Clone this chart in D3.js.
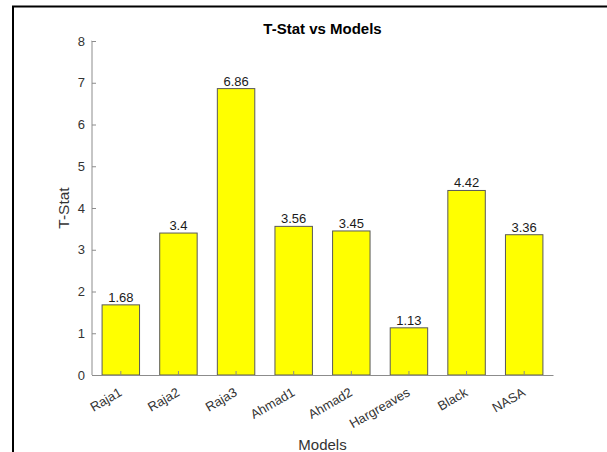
<!DOCTYPE html>
<html><head><meta charset="utf-8">
<script src="https://cdn.jsdelivr.net/npm/d3@7/dist/d3.min.js"></script>
<style>body{margin:0;background:#fff}svg{display:block;font-family:"Liberation Sans",Arial,sans-serif}</style>
</head><body>
<svg id="c" width="607" height="452"></svg>
<script>
const categories = ["Raja1","Raja2","Raja3","Ahmad1","Ahmad2","Hargreaves","Black","NASA"];
const values = [1.68, 3.4, 6.86, 3.56, 3.45, 1.13, 4.42, 3.36];
const valueLabels = ["1.68","3.4","6.86","3.56","3.45","1.13","4.42","3.36"];
const yTicks = [0,1,2,3,4,5,6,7,8];

const svg = d3.select("#c");
const L = 92, R = 553, T = 41, B = 375;
const x = d3.scaleBand().domain(categories).range([L, R]).paddingInner(0.35).paddingOuter(0.175);
const y = d3.scaleLinear().domain([0, 8]).range([B, T]);

// outer frame (left and top black lines)
svg.append("path").attr("d", `M13,452 L13,6.5 L607,6.5`).attr("fill","none").attr("stroke","#000").attr("stroke-width",2);

// bars
svg.selectAll("rect.bar").data(values).join("rect").attr("class","bar")
  .attr("x", (d,i)=>x(categories[i])).attr("width", x.bandwidth())
  .attr("y", d=>y(d)).attr("height", d=>B - y(d))
  .attr("fill","#ffff00").attr("stroke","#595959").attr("stroke-width",1);

// value labels
svg.selectAll("text.val").data(values).join("text").attr("class","val")
  .attr("x",(d,i)=>x(categories[i]) + x.bandwidth()/2).attr("y", d=>y(d)-3)
  .attr("text-anchor","middle").attr("font-size",13).attr("fill","#1a1a1a")
  .text((d,i)=>valueLabels[i]);

// y axis
const yAxis = d3.axisLeft(y).tickValues(yTicks).tickSize(-4).tickPadding(7).tickFormat(d3.format("d"));
const gy = svg.append("g").attr("transform",`translate(${L},0)`).call(yAxis);
gy.select(".domain").attr("stroke","#8c8c8c").attr("d",`M-0.5,${T}H0V${B}`);
gy.selectAll(".tick line").attr("stroke","#8c8c8c");
gy.selectAll(".tick text").attr("font-size",13).attr("fill","#333").attr("font-family","Liberation Sans, Arial, sans-serif");

// x axis
const xAxis = d3.axisBottom(x).tickSize(-4).tickSizeOuter(0);
const gx = svg.append("g").attr("transform",`translate(0,${B})`).call(xAxis);
gx.select(".domain").attr("stroke","#8c8c8c");
gx.selectAll(".tick line").attr("stroke","#8c8c8c");
gx.selectAll(".tick text").attr("font-size",13).attr("fill","#333").attr("font-family","Liberation Sans, Arial, sans-serif")
  .attr("text-anchor","end").attr("dy",null).attr("y",null)
  .attr("transform","translate(2,20) rotate(-30)");

// title & labels
svg.append("text").attr("x",(L+R)/2).attr("y",34).attr("text-anchor","middle")
  .attr("font-size",15).attr("font-weight","bold").attr("fill","#000").text("T-Stat vs Models");
svg.append("text").attr("x",(L+R)/2).attr("y",450).attr("text-anchor","middle")
  .attr("font-size",15).attr("fill","#333").text("Models");
svg.append("text").attr("transform",`translate(69,${(T+B)/2}) rotate(-90)`).attr("text-anchor","middle")
  .attr("font-size",15.5).attr("fill","#333").text("T-Stat");
</script>
</body></html>
